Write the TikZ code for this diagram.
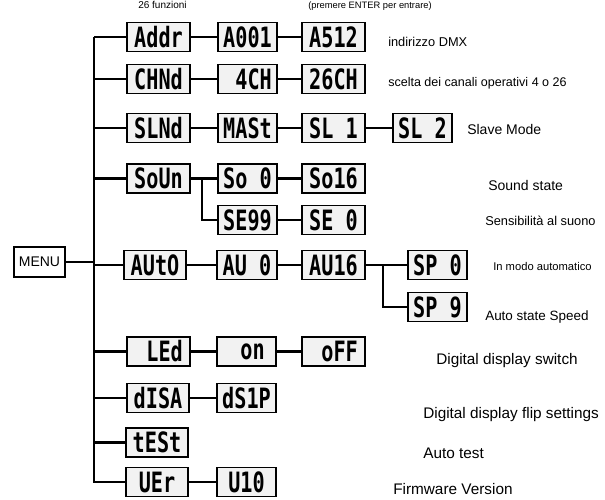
\documentclass[tikz,border=0pt]{standalone}
\usepackage{fontspec}
\setmainfont{Liberation Sans}
\newfontfamily\segfont[FakeStretch=0.72]{DejaVu Sans Mono}
\usetikzlibrary{positioning}
\tikzset{
    segbox/.style={draw, line width=1.4pt, fill=gray!10, minimum height=21.75pt,
        minimum width=#1, inner sep=0pt, font=\segfont\bfseries\fontsize{21}{21}\selectfont},
    segbox/.default=44.5pt,
    wire/.style={line width=2.2pt},
    lbl/.style={anchor=base west, inner sep=0pt, font=\fontsize{#1}{#1}\selectfont},
    lbl/.default=11.5
}

\begin{document}
\begin{tikzpicture}[x=0.75pt, y=-0.75pt]
    \useasboundingbox (0,0) rectangle (605,499);
    % heading
    \node[lbl=7.5] (head) at (138, 9) {26 funzioni};
    \node[lbl=7] (enter) at (308, 9) {(premere ENTER per entrare)};
    % menu and trunk
    \node[draw, line width=1pt, minimum width=38.25pt, minimum height=22.5pt, inner sep=0pt,
        font=\fontsize{10.5}{10.5}\selectfont] (menu) at (39.5, 262) {MENU};
    \coordinate (trunktop) at (94, 37);
    % first column
    \node[segbox=47pt] (addr) at (158.5, 37) {Addr};
    \node[segbox=47pt] (chnd) at (158.5, 79) {CHNd};
    \node[segbox=47pt] (slnd) at (158.5, 128) {SLNd};
    \node[segbox=47pt] (soun) at (158.5, 178.5) {SoUn};
    \node[segbox=47pt] (auto) at (155, 265) {AUtO};
    \node[segbox=47pt] (led) at (158.5, 351.5) {~LEd};
    \node[segbox=47pt] (disa) at (158, 398) {dISA};
    \node[segbox=47pt] (test) at (157, 442.5) {tESt};
    \node[segbox=47pt] (uer) at (157, 482) {UEr~};
    % second column
    \node[segbox] (a001) at (247.5, 37) {A001};
    \node[segbox] (ch4) at (247.5, 79) {~4CH};
    \node[segbox] (mast) at (247.5, 128) {MASt};
    \node[segbox] (so0) at (247.5, 178.5) {So~0};
    \node[segbox] (se99) at (247.5, 220) {SE99};
    \node[segbox] (au0) at (247, 265) {AU~0};
    \node[segbox] (on) at (246.5, 351.5) {~on~};
    \node[segbox] (ds1p) at (246.5, 398) {dS1P};
    \node[segbox] (u10) at (246.5, 482) {U10~};
    % third column
    \node[segbox=47pt] (a512) at (333.5, 37) {A512};
    \node[segbox=47pt] (ch26) at (333.5, 79) {26CH};
    \node[segbox=47pt] (sl1) at (333.5, 128) {SL~1};
    \node[segbox=47pt] (so16) at (333.5, 178.5) {So16};
    \node[segbox=47pt] (se0) at (333.5, 220) {SE~0};
    \node[segbox=47pt] (au16) at (333.5, 265) {AU16};
    \node[segbox=47pt] (off) at (333.5, 351.5) {~oFF};
    % fourth column
    \node[segbox] (sl2) at (422.5, 128) {SL~2};
    \node[segbox] (sp0) at (437.5, 265) {SP~0};
    \node[segbox] (sp9) at (437.5, 307) {SP~9};
    \coordinate (sndsplit) at (202, 178.5);
    \coordinate (autosplit) at (383, 265);
    % connectors
    \draw[wire] (trunktop) |- (uer);
    \draw[wire] (trunktop) -- (addr);
    \draw[wire] (menu) -- (menu -| trunktop);
    \foreach \n in {chnd,slnd,soun,auto,led,disa,test}
        \draw[wire] (\n) -- (\n -| trunktop);
    \draw[wire] (addr) -- (a001);
    \draw[wire] (a001) -- (a512);
    \draw[wire] (chnd) -- (ch4);
    \draw[wire] (ch4) -- (ch26);
    \draw[wire] (slnd) -- (mast);
    \draw[wire] (mast) -- (sl1);
    \draw[wire] (sl1) -- (sl2);
    \draw[wire] (soun) -- (sndsplit) -- (so0);
    \draw[wire] (sndsplit) |- (se99);
    \draw[wire] (so0) -- (so16);
    \draw[wire] (se99) -- (se0);
    \draw[wire] (auto) -- (au0);
    \draw[wire] (au0) -- (au16);
    \draw[wire] (au16) -- (autosplit) -- (sp0);
    \draw[wire] (autosplit) |- (sp9);
    \draw[wire] (led) -- (on);
    \draw[wire] (on) -- (off);
    \draw[wire] (disa) -- (ds1p);
    \draw[wire] (uer) -- (u10);
    % descriptions
    \node[lbl=9.6] (dmx) at (388, 46.5) {indirizzo DMX};
    \node[lbl=9.4] (canali) at (388, 86.5) {scelta dei canali operativi 4 o 26};
    \node[lbl=10.5] (slave) at (467, 134) {Slave Mode};
    \node[lbl=10.5] (sound) at (488, 190) {Sound state};
    \node[lbl=9.6] (sens) at (485, 225.5) {Sensibilità al suono};
    \node[lbl=8.4] (modo) at (493, 270) {In modo automatico};
    \node[lbl=10.1] (speed) at (485, 320) {Auto state Speed};
    \node[lbl] (switch) at (436, 364.5) {Digital display switch};
    \node[lbl] (flip) at (423, 418.5) {Digital display flip settings};
    \node[lbl] (autotest) at (423, 458.5) {Auto test};
    \node[lbl] (firmware) at (393, 494) {Firmware Version};
\end{tikzpicture}
\end{document}
